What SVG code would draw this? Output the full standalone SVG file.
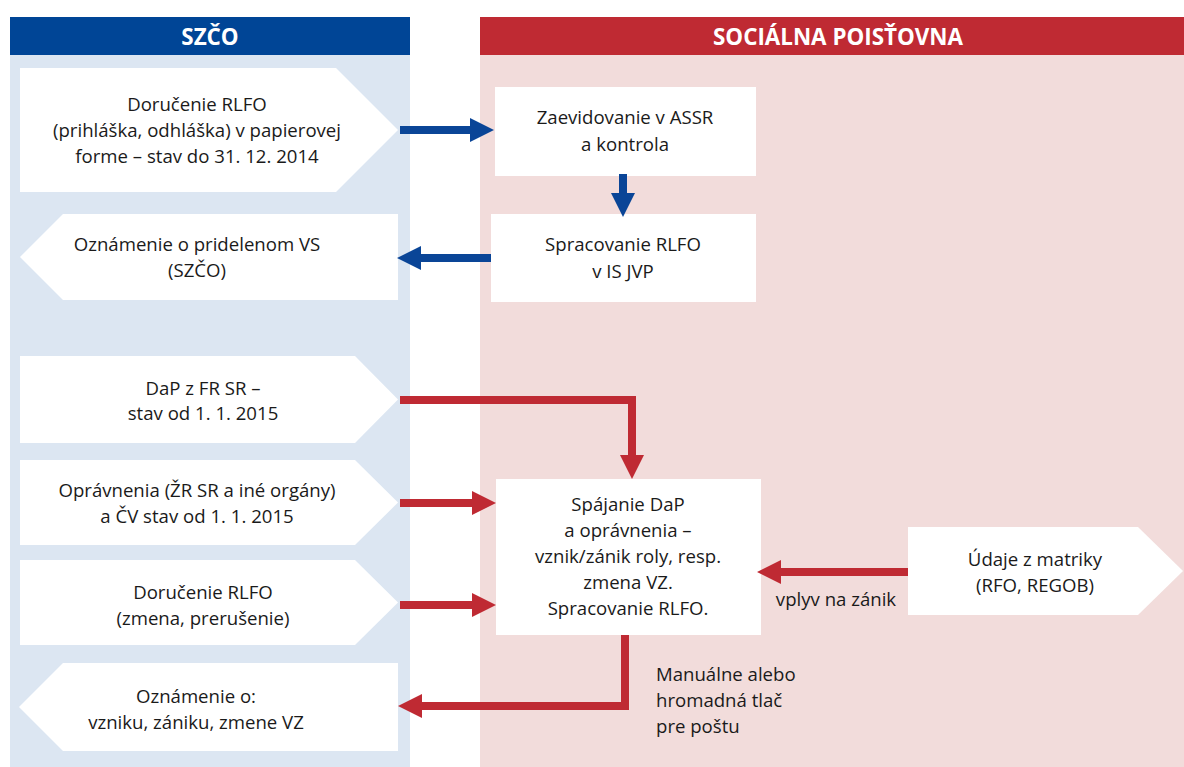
<svg xmlns="http://www.w3.org/2000/svg" width="1184" height="767" viewBox="0 0 1184 767">
<style>
.t{font-family:"Open Sans","Liberation Sans",sans-serif;font-size:18.6px;fill:#1a1a1a;text-anchor:middle}
.l{text-anchor:start}
.h{font-family:"Open Sans","Liberation Sans",sans-serif;font-size:22.4px;font-weight:bold;fill:#fff;text-anchor:middle}
.box{fill:#fff}
.bl{fill:none;stroke:#0a4597;stroke-width:8}
.rd{fill:none;stroke:#bf2a33;stroke-width:8}
</style>
<defs>
<marker id="hb" markerUnits="userSpaceOnUse" markerWidth="24" markerHeight="24" refX="0" refY="12" orient="auto" overflow="visible"><path d="M0,0 L24,12 L0,24 z" fill="#0a4597"/></marker>
<marker id="hr" markerUnits="userSpaceOnUse" markerWidth="24" markerHeight="24" refX="0" refY="12" orient="auto" overflow="visible"><path d="M0,0 L24,12 L0,24 z" fill="#bf2a33"/></marker>
</defs>
<rect width="1184" height="767" fill="#fff"/>
<g id="lanes">
<rect x="10" y="55" width="400" height="712" fill="#dce6f2"/>
<rect x="480" y="55" width="704" height="712" fill="#f2dcdb"/>
<rect x="10" y="17" width="400" height="38" fill="#004596"/>
<rect x="480" y="17" width="704" height="38" fill="#bf2a33"/>
<text class="h" x="210" y="45">SZČO</text>
<text class="h" x="838" y="45">SOCIÁLNA POISŤOVNA</text>
</g>
<g id="n1"><path class="box" d="M20,68 H336 L398,130 L336,192 H20 z"/>
<text class="t" x="197" y="111">Doručenie RLFO</text><text class="t" x="197" y="137">(prihláška, odhláška) v papierovej</text><text class="t" x="197" y="163">forme – stav do 31. 12. 2014</text></g>
<g id="n2"><path class="box" d="M63,214 H398 V300 H63 L20,257 z"/>
<text class="t" x="197" y="251">Oznámenie o pridelenom VS</text><text class="t" x="197" y="277">(SZČO)</text></g>
<g id="n3"><path class="box" d="M20,356 H355 L398,399.5 L355,443 H20 z"/>
<text class="t" x="203" y="395">DaP z FR SR –</text><text class="t" x="203" y="420">stav od 1. 1. 2015</text></g>
<g id="n4"><path class="box" d="M20,460 H355 L398,502.5 L355,545 H20 z"/>
<text class="t" x="197" y="497">Oprávnenia (ŽR SR a iné orgány)</text><text class="t" x="197" y="523">a ČV stav od 1. 1. 2015</text></g>
<g id="n5"><path class="box" d="M20,560 H355 L398,602.5 L355,645 H20 z"/>
<text class="t" x="203" y="599">Doručenie RLFO</text><text class="t" x="203" y="625">(zmena, prerušenie)</text></g>
<g id="n6"><path class="box" d="M63,663 H398 V751 H63 L19,707 z"/>
<text class="t" x="196" y="703">Oznámenie o:</text><text class="t" x="196" y="729">vzniku, zániku, zmene VZ</text></g>
<g id="n7"><rect class="box" x="495" y="87" width="261" height="89"/>
<text class="t" x="625" y="124">Zaevidovanie v ASSR</text><text class="t" x="625" y="151">a kontrola</text></g>
<g id="n8"><rect class="box" x="491" y="214" width="265" height="88"/>
<text class="t" x="623" y="251">Spracovanie RLFO</text><text class="t" x="623" y="278">v IS JVP</text></g>
<g id="n9"><rect class="box" x="496" y="479" width="265" height="156"/>
<text class="t" x="628" y="511">Spájanie DaP</text><text class="t" x="628" y="537">a oprávnenia –</text><text class="t" x="628" y="563">vznik/zánik roly, resp.</text><text class="t" x="628" y="589">zmena VZ.</text><text class="t" x="628" y="615">Spracovanie RLFO.</text></g>
<g id="n10"><path class="box" d="M908,527 H1138 L1183,571 L1138,615 H908 z"/>
<text class="t" x="1035" y="566">Údaje z matriky</text><text class="t" x="1035" y="592">(RFO, REGOB)</text></g>
<g id="connectors">
<path class="bl" d="M400,130 H470" marker-end="url(#hb)"/>
<path class="bl" d="M623,174 V193" marker-end="url(#hb)"/>
<path class="bl" d="M491,258 H421" marker-end="url(#hb)"/>
<path class="rd" d="M400,400 H632 V455" marker-end="url(#hr)"/>
<path class="rd" d="M400,503 H472" marker-end="url(#hr)"/>
<path class="rd" d="M400,605 H472" marker-end="url(#hr)"/>
<path class="rd" d="M908,572 H781" marker-end="url(#hr)"/>
<path class="rd" d="M625,635 V706 H422" marker-end="url(#hr)"/>
<text class="t" x="836" y="606">vplyv na zánik</text>
<text class="t l" x="656" y="681">Manuálne alebo</text>
<text class="t l" x="656" y="707">hromadná tlač</text>
<text class="t l" x="656" y="733">pre poštu</text>
</g>
</svg>
